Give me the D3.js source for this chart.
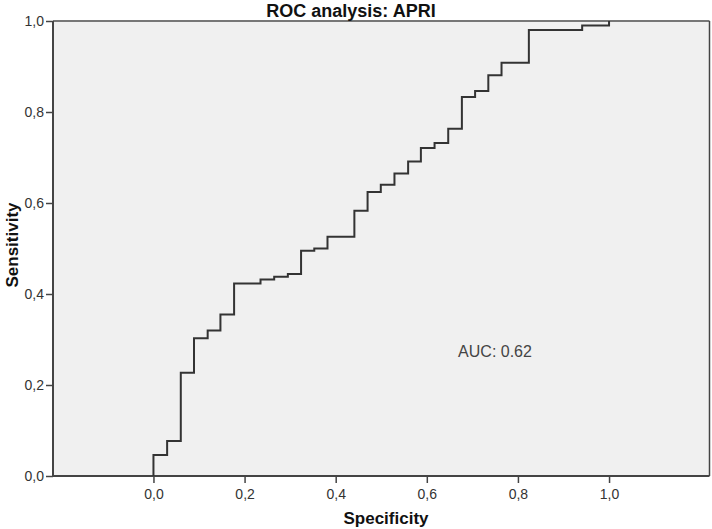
<!DOCTYPE html>
<html>
<head>
<meta charset="utf-8">
<script src="https://cdn.jsdelivr.net/npm/d3@7"></script>
<style>
  html, body { margin: 0; padding: 0; background: #fff; }
  svg { display: block; }
  text { font-family: "Liberation Sans", Arial, sans-serif; }
</style>
</head>
<body>
<svg id="chart" width="712" height="529"></svg>
<script>
// ---- Data ----
const title = "ROC analysis: APRI";
const xLabel = "Specificity";
const yLabel = "Sensitivity";
const aucText = "AUC: 0.62";
const tickValues = [0, 0.2, 0.4, 0.6, 0.8, 1.0];
// step points: at each x, the curve rises to the given y
const rocX = [0, 0, 0.030, 0.060, 0.089, 0.119, 0.147, 0.177, 0.235, 0.265, 0.295, 0.324, 0.353, 0.382,
              0.441, 0.470, 0.499, 0.529, 0.559, 0.587, 0.617, 0.647, 0.677, 0.706, 0.735, 0.764,
              0.824, 0.941, 1.0];
const rocY = [0, 0.046, 0.077, 0.227, 0.303, 0.320, 0.355, 0.423, 0.432, 0.438, 0.444, 0.495, 0.500, 0.526,
              0.583, 0.624, 0.640, 0.665, 0.691, 0.721, 0.732, 0.763, 0.833, 0.846, 0.881, 0.908,
              0.980, 0.990, 1.0];

// ---- Layout ----
const svg = d3.select("#chart");
const L = 53, R = 709.5, T = 21, B = 476;
const x = d3.scaleLinear().domain([-0.2205, 1.2205]).range([L, R]);
const y = d3.scaleLinear().domain([0, 1]).range([B, T]);
const fmt = d => d3.format(".1f")(d).replace(".", ",");

// plot background
svg.append("rect").attr("x", L).attr("y", T).attr("width", R - L).attr("height", B - T)
  .attr("fill", "#f0f0f0");

// frame top/right
svg.append("line").attr("x1", L).attr("x2", R).attr("y1", T).attr("y2", T)
  .attr("stroke", "#777").attr("stroke-width", 2);
svg.append("line").attr("x1", R).attr("x2", R).attr("y1", T).attr("y2", B)
  .attr("stroke", "#444").attr("stroke-width", 1.5);

// axes
const xAxis = d3.axisBottom(x).tickValues(tickValues).tickFormat(fmt).tickSize(7).tickPadding(6);
const yAxis = d3.axisLeft(y).tickValues(tickValues).tickFormat(fmt).tickSize(7).tickPadding(2);

const gx = svg.append("g").attr("transform", `translate(0,${B})`).call(xAxis);
const gy = svg.append("g").attr("transform", `translate(${L},0)`).call(yAxis);
[gx, gy].forEach(g => {
  g.select(".domain").attr("stroke", "#444").attr("stroke-width", 2);
  g.selectAll(".tick line").attr("stroke", "#444").attr("stroke-width", 1.5);
  g.selectAll(".tick text").attr("fill", "#333").style("font-size", "14px")
    .style("font-family", "'Liberation Sans', Arial, sans-serif");
});
gx.select(".domain").attr("d", `M${L},0H${R}`);
gy.select(".domain").attr("d", `M0,${B}V${T}`);

// ROC step line
const line = d3.line().x((d, i) => x(rocX[i])).y((d, i) => y(rocY[i])).curve(d3.curveStepAfter);
svg.append("path").datum(rocX).attr("d", line)
  .attr("fill", "none").attr("stroke", "#333").attr("stroke-width", 2);

// AUC annotation
svg.append("text").attr("x", 495).attr("y", 357).attr("text-anchor", "middle")
  .attr("fill", "#444").style("font-size", "16px").text(aucText);

// title
svg.append("text").attr("x", 351).attr("y", 16.5).attr("text-anchor", "middle")
  .style("font-weight", "bold").style("font-size", "18px").attr("fill", "#111").text(title);

// axis titles
svg.append("text").attr("x", 386).attr("y", 524).attr("text-anchor", "middle")
  .style("font-weight", "bold").style("font-size", "17px").attr("fill", "#111").text(xLabel);
svg.append("text").attr("transform", `translate(18,245) rotate(-90)`)
  .attr("text-anchor", "middle")
  .style("font-weight", "bold").style("font-size", "17px").attr("fill", "#111").text(yLabel);
</script>
</body>
</html>
